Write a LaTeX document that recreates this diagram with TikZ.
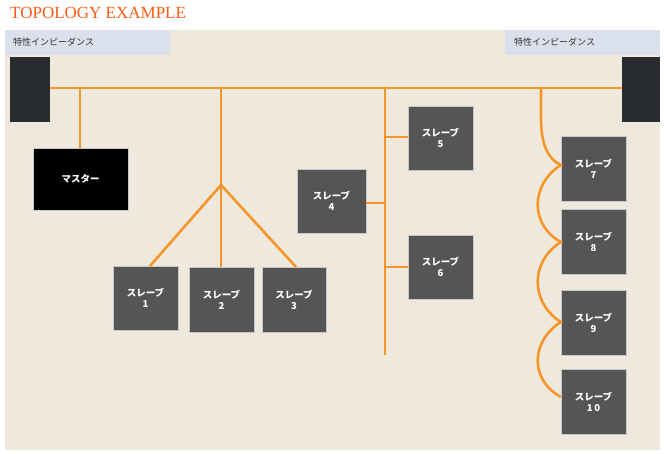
\documentclass[tikz,border=0pt]{standalone}
\usepackage{fontspec}
\setmainfont{Liberation Serif}
\newfontfamily\jp{Noto Sans CJK JP}
\definecolor{busc}{RGB}{247,150,40}
\definecolor{slc}{RGB}{85,85,85}
\definecolor{edgec}{RGB}{200,200,200}
\definecolor{termc}{RGB}{40,44,48}
\definecolor{lblc}{RGB}{218,224,236}
\definecolor{lbltext}{RGB}{50,50,50}
\definecolor{bgc}{RGB}{238,232,221}
\definecolor{titlec}{RGB}{250,90,20}
\begin{document}
\begin{tikzpicture}[x=1pt,y=-1pt,
  bus/.style={draw=busc,line width=2.6pt},
  slave/.style={fill=slc,draw=edgec,line width=0.4pt,text=white,font=\jp\bfseries\fontsize{9.5}{11}\selectfont,align=center,inner sep=0pt},
  term/.style={fill=termc},
  lbl/.style={font=\jp\fontsize{9}{10}\selectfont,text=lbltext}]
\useasboundingbox (0,0) rectangle (664,454);
\fill[white] (0,0) rectangle (664,454);
\fill[bgc] (5,30) rectangle (660,450);
\node[anchor=north west,inner sep=0pt,text=titlec,font=\fontsize{17}{18}\selectfont] (title) at (10,7) {TOPOLOGY EXAMPLE};
\fill[lblc] (5,30) rectangle (170,55);
\node[lbl,anchor=west,inner sep=0pt] (l1) at (13,42.5) {特性インピーダンス};
\fill[lblc] (505,30) rectangle (660,55);
\node[lbl,anchor=west,inner sep=0pt] (l2) at (514,42.5) {特性インピーダンス};
\node[term,minimum width=40pt,minimum height=65pt,inner sep=0pt] (tl) at (30,89.5) {};
\node[term,minimum width=38pt,minimum height=65pt,inner sep=0pt] (tr) at (641,89.5) {};
\draw[bus] (tl.east |- 0,88) -- (tr.west |- 0,88);
% master
\node[fill=black,draw=edgec,line width=0.4pt,text=white,font=\jp\bfseries\fontsize{9.5}{11}\selectfont,minimum width=95pt,minimum height=62pt] (m) at (80.5,179) {マスター};
\draw[bus] (80,88) -- (m.north -| 80,0);
% star
\coordinate (hub) at (221,185);
\node[slave,minimum width=65pt,minimum height=64pt] (s1) at (145.5,298) {スレーブ\\1};
\node[slave,minimum width=65pt,minimum height=65pt] (s2) at (221.5,299.5) {スレーブ\\2};
\node[slave,minimum width=64pt,minimum height=65pt] (s3) at (294,299.5) {スレーブ\\3};
\draw[bus] (221,88) -- (hub);
\draw[bus] (hub) -- (150,266);
\draw[bus] (hub) -- (221,267);
\draw[bus] (hub) -- (296,267);
% vertical stub bus
\coordinate (vb) at (385,355);
\draw[bus] (385,88) -- (vb);
\node[slave,minimum width=65pt,minimum height=64pt] (s5) at (440.5,138) {スレーブ\\5};
\node[slave,minimum width=69pt,minimum height=64pt] (s4) at (331.5,201) {スレーブ\\4};
\node[slave,minimum width=65pt,minimum height=64pt] (s6) at (440.5,267) {スレーブ\\6};
\draw[bus] (385,137) -- (s5.west |- 0,137);
\draw[bus] (385,203) -- (s4.east |- 0,203);
\draw[bus] (385,267) -- (s6.west |- 0,267);
% daisy chain
\node[slave,minimum width=65pt,minimum height=65pt] (s7) at (593.5,168.5) {スレーブ\\7};
\node[slave,minimum width=65pt,minimum height=65pt] (s8) at (593.5,241.5) {スレーブ\\8};
\node[slave,minimum width=65pt,minimum height=65pt] (s9) at (593.5,322.5) {スレーブ\\9};
\node[slave,minimum width=65pt,minimum height=65pt] (s10) at (593.5,401.5) {スレーブ\\1\,0};
\draw[bus] (541,88) -- (541,118) .. controls (541,148) and (550,160) .. (s7.west |- 0,165)
  .. controls (530,185) and (530,225) .. (s8.west |- 0,242)
  .. controls (530,262) and (530,302) .. (s9.west |- 0,322)
  .. controls (530,342) and (530,380) .. (s10.west |- 0,397);
\end{tikzpicture}
\end{document}
